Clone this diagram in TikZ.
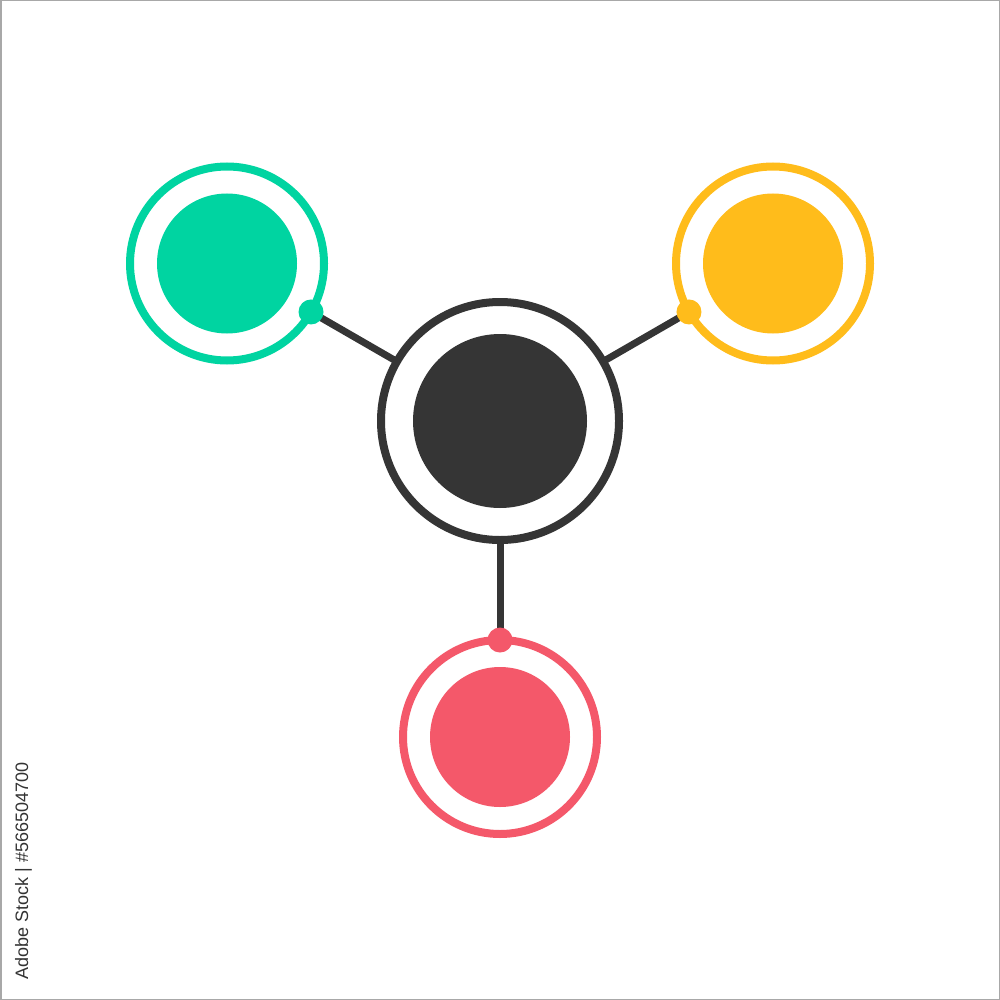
\documentclass[tikz,border=0pt]{standalone}
\usepackage{fontspec}
\setmainfont{Liberation Sans}
\usetikzlibrary{calc,backgrounds}
\definecolor{cdark}{HTML}{353535}
\definecolor{cgreen}{HTML}{00D4A1}
\definecolor{cyellow}{HTML}{FFBC1B}
\definecolor{cred}{HTML}{F4586A}
\definecolor{cframe}{HTML}{A8A8A8}
\definecolor{ctext}{HTML}{333333}
\begin{document}
\begin{tikzpicture}[x=1pt,y=-1pt,
  ring/.style={circle,draw=#1,line width=8pt,fill=white,inner sep=0pt,outer sep=0pt},
  disk/.style={circle,fill=#1,inner sep=0pt,outer sep=0pt},
  dotnode/.style={circle,fill=#1,inner sep=0pt,outer sep=0pt,minimum size=25pt},
  link/.style={draw=cdark,line width=7pt}]
  \useasboundingbox (0,0) rectangle (1000,1000);
  \draw[cframe,line width=1.5pt] (0.75,0.75) rectangle (999.25,999.25);

  % central node
  \node[ring=cdark,minimum size=238pt] (cring) at (500,421) {};
  \node[disk=cdark,minimum size=174pt] (cdisk) at (500,421) {};

  % green
  \node[ring=cgreen,minimum size=194pt] (gring) at (227,263.5) {};
  \node[disk=cgreen,minimum size=140pt] (gdisk) at (227,263.5) {};
  \node[dotnode=cgreen] (gdot) at ($(gring.center)!97pt!(cring.center)$) {};

  % yellow
  \node[ring=cyellow,minimum size=194pt] (yring) at (773,263.5) {};
  \node[disk=cyellow,minimum size=140pt] (ydisk) at (773,263.5) {};
  \node[dotnode=cyellow] (ydot) at ($(yring.center)!97pt!(cring.center)$) {};

  % red
  \node[ring=cred,minimum size=194pt] (rring) at (500,737) {};
  \node[disk=cred,minimum size=140pt] (rdisk) at (500,737) {};
  \node[dotnode=cred] (rdot) at ($(rring.center)!97pt!(cring.center)$) {};

  \begin{pgfonlayer}{background}
    \draw[link] (cring.center) -- (gdot.center);
    \draw[link] (cring.center) -- (ydot.center);
    \draw[link] (cring.center) -- (rdot.center);
  \end{pgfonlayer}

  % vertical stock id
  \node[rotate=90,anchor=base,inner sep=0pt,text=ctext,font=\fontsize{18}{20}\selectfont] (stockid) at (28,871) {Adobe Stock | \#566504700};
\end{tikzpicture}
\end{document}
